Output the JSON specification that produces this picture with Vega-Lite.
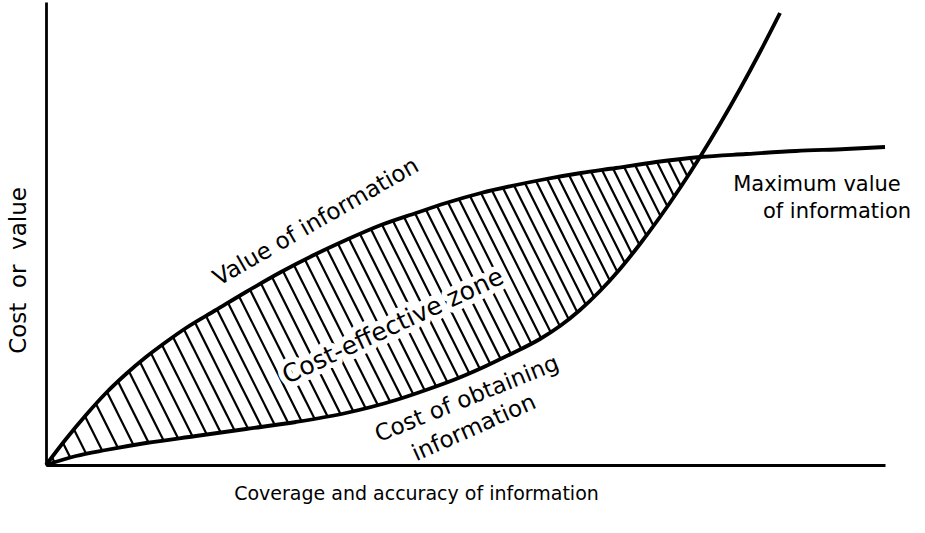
{
  "$schema": "https://vega.github.io/schema/vega-lite/v6.json",
  "width": 839,
  "height": 463,
  "padding": {"left": 46, "top": 2, "right": 40, "bottom": 68},
  "autosize": {"type": "none"},
  "background": "white",
  "config": {"view": {"stroke": null}, "font": "DejaVu Sans"},
  "datasets": {
    "value": [
      {"x": 0, "y": 0}, {"x": 20, "y": 26}, {"x": 40, "y": 50}, {"x": 60, "y": 72}, {"x": 80, "y": 91},
      {"x": 100, "y": 108}, {"x": 120, "y": 123}, {"x": 140, "y": 137}, {"x": 170, "y": 155}, {"x": 200, "y": 173},
      {"x": 235, "y": 193}, {"x": 270, "y": 211}, {"x": 300, "y": 225}, {"x": 335, "y": 240}, {"x": 370, "y": 252},
      {"x": 400, "y": 262}, {"x": 435, "y": 272}, {"x": 470, "y": 280}, {"x": 500, "y": 286}, {"x": 535, "y": 292},
      {"x": 570, "y": 297}, {"x": 610, "y": 303}, {"x": 654, "y": 308}, {"x": 700, "y": 311}, {"x": 750, "y": 314},
      {"x": 800, "y": 316}, {"x": 839, "y": 318}
    ],
    "cost": [
      {"x": 0, "y": 0}, {"x": 30, "y": 9}, {"x": 60, "y": 15}, {"x": 100, "y": 22}, {"x": 150, "y": 29},
      {"x": 200, "y": 36}, {"x": 250, "y": 43}, {"x": 300, "y": 52}, {"x": 350, "y": 65}, {"x": 380, "y": 75},
      {"x": 410, "y": 86}, {"x": 440, "y": 99}, {"x": 467, "y": 112}, {"x": 494, "y": 126}, {"x": 514, "y": 139},
      {"x": 534, "y": 155}, {"x": 554, "y": 174}, {"x": 574, "y": 196}, {"x": 594, "y": 221}, {"x": 614, "y": 248},
      {"x": 634, "y": 277}, {"x": 654, "y": 308}, {"x": 674, "y": 341}, {"x": 694, "y": 376}, {"x": 714, "y": 413},
      {"x": 734, "y": 452}
    ],
    "hatch": [
      {"x": 6, "y": 7.8, "x2": 8.6, "y2": 2.6},
      {"x": 17, "y": 22.1, "x2": 24.4, "y2": 7.3},
      {"x": 28, "y": 35.6, "x2": 40.3, "y2": 11.0},
      {"x": 39, "y": 48.8, "x2": 56.3, "y2": 14.3},
      {"x": 50, "y": 61.0, "x2": 72.0, "y2": 17.1},
      {"x": 61, "y": 73.0, "x2": 87.6, "y2": 19.8},
      {"x": 72, "y": 83.4, "x2": 102.5, "y2": 22.4},
      {"x": 83, "y": 93.6, "x2": 117.6, "y2": 24.5},
      {"x": 94, "y": 102.9, "x2": 132.2, "y2": 26.5},
      {"x": 105, "y": 111.8, "x2": 146.6, "y2": 28.5},
      {"x": 116, "y": 120.0, "x2": 160.8, "y2": 30.5},
      {"x": 127, "y": 127.9, "x2": 174.7, "y2": 32.5},
      {"x": 138, "y": 135.6, "x2": 188.6, "y2": 34.4},
      {"x": 149, "y": 142.4, "x2": 202.1, "y2": 36.3},
      {"x": 160, "y": 149.0, "x2": 215.5, "y2": 38.2},
      {"x": 171, "y": 155.6, "x2": 228.8, "y2": 40.0},
      {"x": 182, "y": 162.2, "x2": 242.2, "y2": 41.9},
      {"x": 193, "y": 168.8, "x2": 255.5, "y2": 44.0},
      {"x": 204, "y": 175.3, "x2": 268.6, "y2": 46.3},
      {"x": 215, "y": 181.6, "x2": 281.5, "y2": 48.7},
      {"x": 226, "y": 187.9, "x2": 294.5, "y2": 51.0},
      {"x": 237, "y": 194.0, "x2": 307.2, "y2": 53.9},
      {"x": 248, "y": 199.7, "x2": 319.5, "y2": 57.1},
      {"x": 259, "y": 205.3, "x2": 331.7, "y2": 60.2},
      {"x": 270, "y": 211.0, "x2": 344.0, "y2": 63.4},
      {"x": 281, "y": 216.1, "x2": 355.9, "y2": 67.0},
      {"x": 292, "y": 221.3, "x2": 367.3, "y2": 70.8},
      {"x": 303, "y": 226.3, "x2": 378.8, "y2": 74.6},
      {"x": 314, "y": 231.0, "x2": 390.1, "y2": 78.7},
      {"x": 325, "y": 235.7, "x2": 401.4, "y2": 82.8},
      {"x": 336, "y": 240.3, "x2": 412.6, "y2": 87.1},
      {"x": 347, "y": 244.1, "x2": 423.3, "y2": 91.8},
      {"x": 358, "y": 247.9, "x2": 433.7, "y2": 96.6},
      {"x": 369, "y": 251.7, "x2": 444.3, "y2": 101.1},
      {"x": 380, "y": 255.3, "x2": 454.7, "y2": 106.0},
      {"x": 391, "y": 259.0, "x2": 465.1, "y2": 110.8},
      {"x": 402, "y": 262.6, "x2": 475.4, "y2": 115.8},
      {"x": 413, "y": 265.7, "x2": 485.3, "y2": 121.4},
      {"x": 424, "y": 268.9, "x2": 495.1, "y2": 126.7},
      {"x": 435, "y": 272.0, "x2": 504.6, "y2": 132.9},
      {"x": 446, "y": 274.5, "x2": 513.8, "y2": 138.9},
      {"x": 457, "y": 277.0, "x2": 522.6, "y2": 145.9},
      {"x": 468, "y": 279.5, "x2": 531.3, "y2": 152.8},
      {"x": 479, "y": 281.8, "x2": 539.7, "y2": 160.4},
      {"x": 490, "y": 284.0, "x2": 547.9, "y2": 168.2},
      {"x": 501, "y": 286.2, "x2": 556.0, "y2": 176.2},
      {"x": 512, "y": 288.1, "x2": 563.7, "y2": 184.7},
      {"x": 523, "y": 289.9, "x2": 571.4, "y2": 193.1},
      {"x": 534, "y": 291.8, "x2": 578.9, "y2": 202.1},
      {"x": 545, "y": 293.4, "x2": 586.1, "y2": 211.1},
      {"x": 556, "y": 295.0, "x2": 593.4, "y2": 220.3},
      {"x": 567, "y": 296.6, "x2": 600.4, "y2": 229.6},
      {"x": 578, "y": 298.2, "x2": 607.5, "y2": 239.2},
      {"x": 589, "y": 299.9, "x2": 614.6, "y2": 248.8},
      {"x": 600, "y": 301.5, "x2": 621.4, "y2": 258.7},
      {"x": 611, "y": 303.1, "x2": 628.2, "y2": 268.6},
      {"x": 622, "y": 304.4, "x2": 635.0, "y2": 278.5},
      {"x": 633, "y": 305.6, "x2": 641.5, "y2": 288.6},
      {"x": 644, "y": 306.9, "x2": 648.1, "y2": 298.9}
    ],
    "labels": [
      {"label": "Value of information", "x": 270, "y": 243},
      {"label": "Cost-effective zone", "x": 347, "y": 139},
      {"label": "Cost of obtaining", "x": 421, "y": 66},
      {"label": "information", "x": 428, "y": 37},
      {"label": "Maximum value", "x": 771, "y": 280},
      {"label": "of information", "x": 791, "y": 253}
    ]
  },
  "encoding": {
    "x": {
      "field": "x", "type": "quantitative",
      "scale": {"domain": [0, 839], "nice": false, "zero": false},
      "axis": {
        "title": "Coverage and accuracy of information",
        "ticks": false, "labels": false, "grid": false,
        "domainColor": "black", "domainWidth": 2.8,
        "titleFont": "DejaVu Sans", "titleFontSize": 19, "titleFontWeight": "normal", "titleColor": "black",
        "titleX": 370, "titleY": 28, "titleAlign": "center", "titleBaseline": "middle"
      }
    },
    "y": {
      "field": "y", "type": "quantitative",
      "scale": {"domain": [0, 463], "nice": false, "zero": false},
      "axis": {
        "title": "Cost\u00a0\u00a0or\u00a0\u00a0value",
        "ticks": false, "labels": false, "grid": false,
        "domainColor": "black", "domainWidth": 2.8,
        "titleFont": "DejaVu Sans", "titleFontSize": 23, "titleFontWeight": "normal", "titleColor": "black",
        "titleX": -28, "titleY": 268, "titleAngle": -90, "titleAlign": "center", "titleBaseline": "middle"
      }
    }
  },
  "layer": [
    {
      "data": {"name": "hatch"},
      "mark": {"type": "rule", "color": "black", "strokeWidth": 2.2},
      "encoding": {"x2": {"field": "x2"}, "y2": {"field": "y2"}}
    },
    {
      "data": {"name": "labels"},
      "transform": [{"filter": "datum.label == 'Cost-effective zone'"}],
      "mark": {"type": "text", "angle": -25, "font": "DejaVu Sans", "fontSize": 25, "fill": "white", "stroke": "white", "strokeWidth": 11, "strokeJoin": "round", "align": "center", "baseline": "middle"},
      "encoding": {"text": {"field": "label"}}
    },
    {
      "data": {"name": "value"},
      "mark": {"type": "line", "color": "black", "strokeWidth": 3.8, "interpolate": "monotone"}
    },
    {
      "data": {"name": "cost"},
      "mark": {"type": "line", "color": "black", "strokeWidth": 3.8, "interpolate": "monotone"}
    },
    {
      "data": {"name": "labels"},
      "transform": [{"filter": "datum.label == 'Cost-effective zone'"}],
      "mark": {"type": "text", "angle": -25, "font": "DejaVu Sans", "fontSize": 25, "color": "black", "align": "center", "baseline": "middle"},
      "encoding": {"text": {"field": "label"}}
    },
    {
      "data": {"name": "labels"},
      "transform": [{"filter": "datum.label == 'Value of information'"}],
      "mark": {"type": "text", "angle": -30, "font": "DejaVu Sans", "fontSize": 23, "color": "black", "align": "center", "baseline": "middle"},
      "encoding": {"text": {"field": "label"}}
    },
    {
      "data": {"name": "labels"},
      "transform": [{"filter": "datum.label == 'Cost of obtaining'"}],
      "mark": {"type": "text", "angle": -22, "font": "DejaVu Sans", "fontSize": 23, "color": "black", "align": "center", "baseline": "middle"},
      "encoding": {"text": {"field": "label"}}
    },
    {
      "data": {"name": "labels"},
      "transform": [{"filter": "datum.label == 'information'"}],
      "mark": {"type": "text", "angle": -24, "font": "DejaVu Sans", "fontSize": 23, "color": "black", "align": "center", "baseline": "middle"},
      "encoding": {"text": {"field": "label"}}
    },
    {
      "data": {"name": "labels"},
      "transform": [{"filter": "datum.label == 'Maximum value' || datum.label == 'of information'"}],
      "mark": {"type": "text", "font": "DejaVu Sans", "fontSize": 21, "color": "black", "align": "center", "baseline": "middle"},
      "encoding": {"text": {"field": "label"}}
    }
  ]
}
